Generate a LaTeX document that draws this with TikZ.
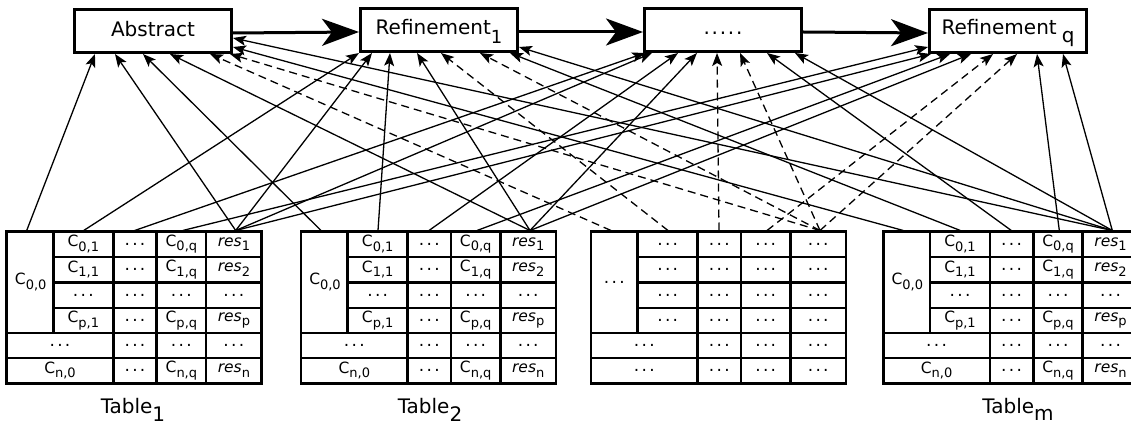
\documentclass[tikz,border=0pt]{standalone}
\usepackage{fontspec}
\setmainfont{DejaVu Sans}
\usetikzlibrary{arrows.meta}
\newcommand\sbx[1]{\raisebox{-4.5pt}{\fontsize{13}{13}\selectfont #1}}
\newcommand\dts{{\fontsize{17}{17}\selectfont .\kern2.3pt.\kern2.3pt.}}
\tikzset{
  bx/.style={draw, fill=white, line width=3pt, minimum width=157pt, minimum height=43pt,
    inner sep=0pt, font=\fontsize{20}{24}\selectfont},
  bigarrow/.style={line width=3pt, -{Stealth[length=37pt,width=27pt,inset=10pt]}},
  con/.style={line width=1.3pt, -{Stealth[length=13pt,width=10pt,inset=3pt]}},
  dcon/.style={con, dash pattern=on 8pt off 5pt},
  cell/.style={font=\fontsize{15.5}{18}\selectfont, inner sep=0pt},
  lbl/.style={font=\fontsize{20}{24}\selectfont, anchor=base, inner sep=0pt},
  gridl/.style={line width=2.8pt, line cap=rect},
}
\newcommand\mktable[3]{%
\begin{scope}[shift={(#2,0)}]
 \draw[gridl] (0,231.5) rectangle (255,383.5);
 \draw[gridl] (46.7,231.5) -- (46.7,333);
 \foreach \xx in {106.7,150,199.3} \draw[gridl] (\xx,231.5) -- (\xx,383.5);
 \foreach \yy in {257,282.5,308} \draw[gridl] (46.7,\yy) -- (255,\yy);
 \foreach \yy in {333,358} \draw[gridl] (0,\yy) -- (255,\yy);
 \ifnum#3=0
  \node[cell] (#1-a)  at (24,282.2) {C\sbx{0,0}};
  \node[cell] (#1-b1) at (76.7,244.2) {C\sbx{0,1}};
  \node[cell] (#1-c1) at (128.3,244.2) {\dts};
  \node[cell] (#1-d1) at (174.7,244.2) {C\sbx{0,q}};
  \node[cell] (#1-e1) at (227.2,244.2) {\textit{res}\sbx{1}};
  \node[cell] (#1-b2) at (76.7,269.7) {C\sbx{1,1}};
  \node[cell] (#1-c2) at (128.3,269.7) {\dts};
  \node[cell] (#1-d2) at (174.7,269.7) {C\sbx{1,q}};
  \node[cell] (#1-e2) at (227.2,269.7) {\textit{res}\sbx{2}};
  \node[cell] (#1-b3) at (76.7,295.2) {\dts};
  \node[cell] (#1-c3) at (128.3,295.2) {\dts};
  \node[cell] (#1-d3) at (174.7,295.2) {\dts};
  \node[cell] (#1-e3) at (227.2,295.2) {\dts};
  \node[cell] (#1-b4) at (76.7,320.5) {C\sbx{p,1}};
  \node[cell] (#1-c4) at (128.3,320.5) {\dts};
  \node[cell] (#1-d4) at (174.7,320.5) {C\sbx{p,q}};
  \node[cell] (#1-e4) at (227.2,320.5) {\textit{res}\sbx{p}};
  \node[cell] (#1-f5) at (53.3,345.5) {\dts};
  \node[cell] (#1-c5) at (128.3,345.5) {\dts};
  \node[cell] (#1-d5) at (174.7,345.5) {\dts};
  \node[cell] (#1-e5) at (227.2,345.5) {\dts};
  \node[cell] (#1-f6) at (53.3,370.7) {C\sbx{n,0}};
  \node[cell] (#1-c6) at (128.3,370.7) {\dts};
  \node[cell] (#1-d6) at (174.7,370.7) {C\sbx{n,q}};
  \node[cell] (#1-e6) at (227.2,370.7) {\textit{res}\sbx{n}};
 \else
  \node[cell] (#1-a)  at (23.3,282.2) {\dts};
  \foreach \yy [count=\i] in {244.2,269.7,295.2,320.5} {
    \node[cell] (#1-b\i) at (76.7,\yy) {\dts};
    \node[cell] (#1-c\i) at (128.3,\yy) {\dts};
    \node[cell] (#1-d\i) at (174.7,\yy) {\dts};
    \node[cell] (#1-e\i) at (227.2,\yy) {\dts};
  }
  \foreach \yy/\i in {345.5/5,370.7/6} {
    \node[cell] (#1-f\i) at (53.3,\yy) {\dts};
    \node[cell] (#1-c\i) at (128.3,\yy) {\dts};
    \node[cell] (#1-d\i) at (174.7,\yy) {\dts};
    \node[cell] (#1-e\i) at (227.2,\yy) {\dts};
  }
 \fi
 \coordinate (#1p0) at (20,230.5);
 \coordinate (#1p1) at (77,230.5);
 \coordinate (#1p2) at (128,230.5);
 \coordinate (#1p3) at (176,230.5);
 \coordinate (#1p4) at (229,230.5);
\end{scope}}
\begin{document}
\begin{tikzpicture}[x=1pt,y=-1pt]
\useasboundingbox (0,0) rectangle (1131,427);
\clip (0,0) rectangle (1131,427);
% top boxes
\node[bx, text height=14pt, text depth=2pt] (abs) at (153,31) {Abstract};
\node[bx, text height=16pt, text depth=6pt] (r1) at (439,30)
  {Refinement\raisebox{-9pt}{\fontsize{18}{18}\selectfont 1}};
\node[bx, text height=16pt, text depth=6pt] (dd) at (723,30)
  {.\kern1.8pt.\kern1.8pt.\kern1.8pt.\kern1.8pt.\hspace{12pt}};
\node[bx, text height=15pt, text depth=7pt] (rq) at (1008,31)
  {Refinement\hspace{5pt}\raisebox{-8pt}{q}};
\draw[bigarrow] ([yshift=-2pt]abs.east) -- ([yshift=-2pt]r1.west);
\draw[bigarrow] ([yshift=-2pt]r1.east) -- ([yshift=-2pt]dd.west);
\draw[bigarrow] ([yshift=-2pt]dd.east) -- ([yshift=-2pt]rq.west);
% ports on the boxes
\foreach \s [count=\i] in {22,42,70,97,137,157} \coordinate (A\i) at ([xshift=\s pt]abs.south west);
\coordinate (A7) at ([yshift=7pt]abs.south east);
\coordinate (A8) at ([yshift=16pt]abs.south east);
\foreach \s [count=\i] in {0,13,31,58,82,121,151} \coordinate (R\i) at ([xshift=\s pt]r1.south west);
\coordinate (R8) at ([yshift=6pt]r1.south east);
\foreach \s [count=\i] in {2,9,35,54,74,97,124,152} \coordinate (D\i) at ([xshift=\s pt]dd.south west);
\coordinate (Q1) at ([yshift=7pt]rq.south west);
\foreach \s [count=\i from 2] in {3,22,43,65,89,109,135} \coordinate (Q\i) at ([xshift=\s pt]rq.south west);
% tables
\mktable{T1}{6.7}{0}
\mktable{T2}{301}{0}
\mktable{T3}{591}{1}
\mktable{Tm}{883.3}{0}
\node[lbl] (L1) at (133,413) {Table\raisebox{-8pt}{1}};
\node[lbl] (L2) at (430,413) {Table\raisebox{-8pt}{2}};
\node[lbl] (Lm) at (1018,413) {Table\raisebox{-7pt}{m}};
% connectors
\draw[con] (T1p0) -- (A1);
\draw[con] (T1p4) -- (A2);
\draw[con] (T1p1) -- (R1);
\draw[con] (T1p4) -- (R2);
\draw[con] (T1p2) -- (D1);
\draw[con] (T1p4) -- (D2);
\draw[con] (T1p3) -- (Q1);
\draw[con] (T1p4) -- (Q2);
\draw[con] (T2p0) -- (A3);
\draw[con] (T2p4) -- (A4);
\draw[con] (T2p1) -- (R3);
\draw[con] (T2p4) -- (R4);
\draw[con] (T2p2) -- (D3);
\draw[con] (T2p4) -- (D4);
\draw[con] (T2p3) -- (Q3);
\draw[con] (T2p4) -- (Q4);
\draw[dcon] (T3p0) -- (A5);
\draw[dcon] (T3p4) -- (A6);
\draw[dcon] (T3p1) -- (R5);
\draw[dcon] (T3p4) -- (R6);
\draw[dcon] (T3p2) -- (D5);
\draw[dcon] (T3p4) -- (D6);
\draw[dcon] (T3p3) -- (Q5);
\draw[dcon] (T3p4) -- (Q6);
\draw[con] (Tmp0) -- (A7);
\draw[con] (Tmp4) -- (A8);
\draw[con] (Tmp1) -- (R7);
\draw[con] (Tmp4) -- (R8);
\draw[con] (Tmp2) -- (D7);
\draw[con] (Tmp4) -- (D8);
\draw[con] (Tmp3) -- (Q7);
\draw[con] (Tmp4) -- (Q8);
\end{tikzpicture}
\end{document}
